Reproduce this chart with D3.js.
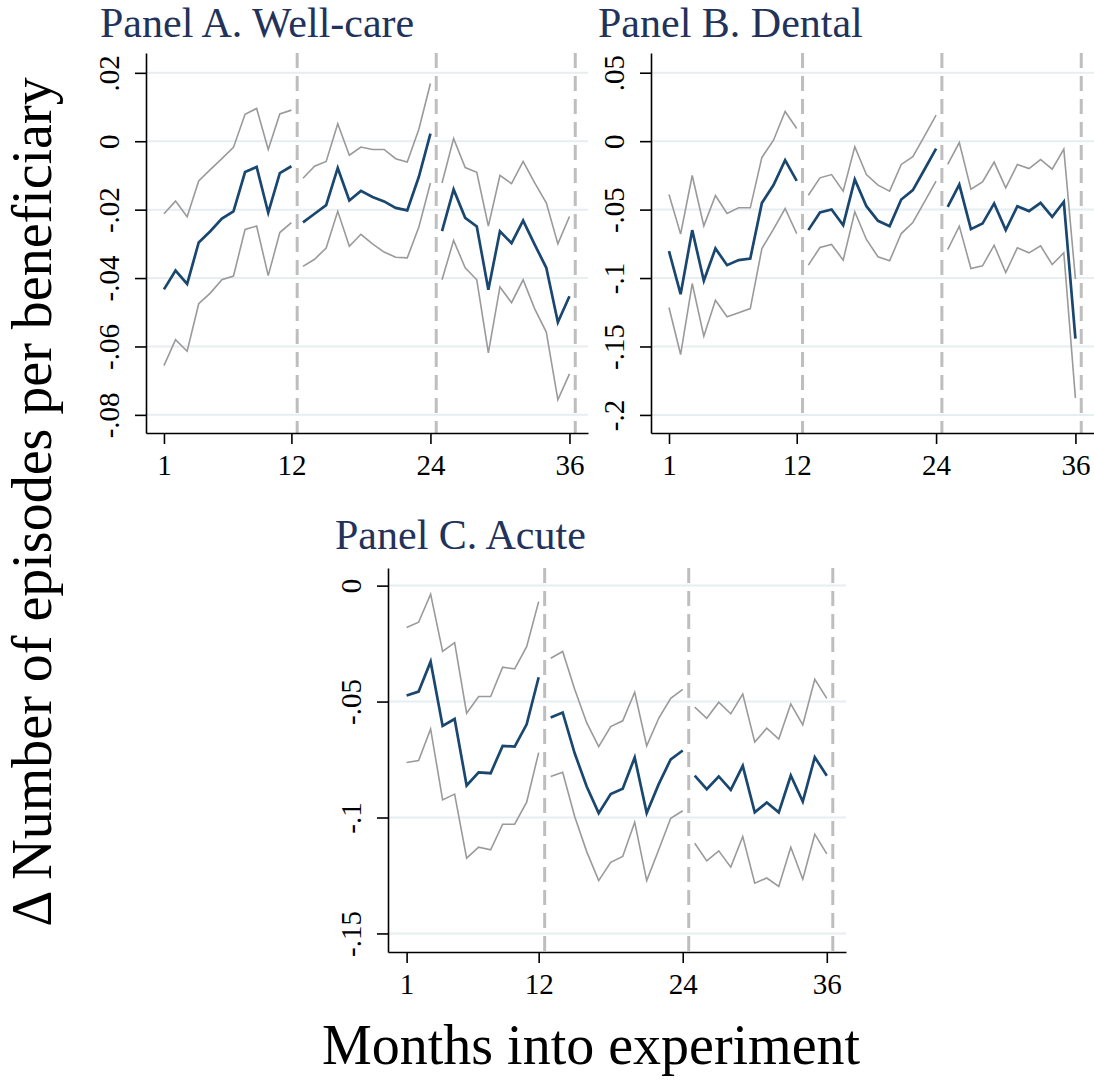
<!DOCTYPE html>
<html>
<head>
<meta charset="utf-8">
<script src="https://cdn.jsdelivr.net/npm/d3@7"></script>
<style>
  body { margin: 0; background: #fff; }
  text { font-family: "Liberation Serif", "Times New Roman", serif; }
</style>
</head>
<body>
<svg id="chart" width="1094" height="1080"></svg>
<script>
(function(){

  // DATA ////////////////////////////////////////////////////////////////////

  var months = [1,2,3,4,5,6,7,8,9,10,11,12,13,14,15,16,17,18,19,20,21,22,23,24,
                25,26,27,28,29,30,31,32,33,34,35,36];
  var xTicks = [1, 12, 24, 36];
  var breaks = [12.5, 24.5, 36.5];

  // Panel A. Well-care
  var wellEst = [-0.0433,-0.0378,-0.0417,-0.0296,-0.0263,-0.0226,-0.0205,-0.0090,-0.0075,-0.0209,-0.0093,-0.0073,
                 -0.0237,-0.0212,-0.0187,-0.0078,-0.0173,-0.0145,-0.0163,-0.0176,-0.0195,-0.0202,-0.0104,0.0022,
                 -0.0263,-0.0141,-0.0224,-0.0249,-0.0434,-0.0263,-0.0298,-0.0232,-0.0302,-0.0370,-0.0529,-0.0453];
  var wellHi  = [-0.0212,-0.0175,-0.0221,-0.0116,-0.0083,-0.0051,-0.0018,0.0079,0.0096,-0.0024,0.0080,0.0091,
                 -0.0108,-0.0073,-0.0059,0.0051,-0.0041,-0.0017,-0.0024,-0.0024,-0.0051,-0.0061,0.0035,0.0169,
                 -0.0122,0.0008,-0.0077,-0.0091,-0.0248,-0.0100,-0.0124,-0.0059,-0.0122,-0.0180,-0.0300,-0.0220];
  var wellLo  = [-0.0656,-0.0580,-0.0614,-0.0475,-0.0444,-0.0405,-0.0394,-0.0258,-0.0248,-0.0393,-0.0267,-0.0238,
                 -0.0366,-0.0345,-0.0312,-0.0205,-0.0307,-0.0272,-0.0300,-0.0324,-0.0339,-0.0341,-0.0251,-0.0122,
                 -0.0405,-0.0290,-0.0370,-0.0405,-0.0619,-0.0426,-0.0472,-0.0405,-0.0490,-0.0558,-0.0756,-0.0680];
  var wellTicks = [0.02, 0, -0.02, -0.04, -0.06, -0.08];
  var wellLabels = [".02", "0", "-.02", "-.04", "-.06", "-.08"];

  // Panel B. Dental
  var dentEst = [-0.0804,-0.1118,-0.0650,-0.1020,-0.0784,-0.0906,-0.0869,-0.0857,-0.0451,-0.0321,-0.0139,-0.0290,
                 -0.0650,-0.0521,-0.0499,-0.0614,-0.0280,-0.0475,-0.0582,-0.0621,-0.0426,-0.0358,-0.0207,-0.0054,
                 -0.0480,-0.0317,-0.0643,-0.0602,-0.0455,-0.0650,-0.0475,-0.0511,-0.0451,-0.0553,-0.0443,-0.1442];
  var dentHi  = [-0.0390,-0.0679,-0.0251,-0.0619,-0.0397,-0.0528,-0.0487,-0.0487,-0.0119,0.0007,0.0217,0.0093,
                 -0.0395,-0.0268,-0.0244,-0.0365,-0.0041,-0.0244,-0.0321,-0.0365,-0.0170,-0.0114,0.0037,0.0190,
                 -0.0170,-0.0010,-0.0351,-0.0297,-0.0153,-0.0341,-0.0170,-0.0200,-0.0134,-0.0205,-0.0058,-0.1008];
  var dentLo  = [-0.1215,-0.1559,-0.1040,-0.1425,-0.1162,-0.1283,-0.1254,-0.1223,-0.0784,-0.0643,-0.0492,-0.0675,
                 -0.0906,-0.0777,-0.0755,-0.0869,-0.0516,-0.0718,-0.0845,-0.0874,-0.0675,-0.0594,-0.0443,-0.0292,
                 -0.0792,-0.0621,-0.0930,-0.0911,-0.0760,-0.0960,-0.0779,-0.0816,-0.0765,-0.0901,-0.0816,-0.1875];
  var dentTicks = [0.05, 0, -0.05, -0.1, -0.15, -0.2];
  var dentLabels = [".05", "0", "-.05", "-.1", "-.15", "-.2"];

  // Panel C. Acute
  var acuteEst = [-0.0474,-0.0457,-0.0328,-0.0605,-0.0575,-0.0862,-0.0805,-0.0809,-0.0691,-0.0694,-0.0598,-0.0395,
                  -0.0569,-0.0547,-0.0723,-0.0866,-0.0981,-0.0899,-0.0876,-0.0741,-0.0981,-0.0856,-0.0749,-0.0711,
                  -0.0819,-0.0878,-0.0823,-0.0881,-0.0777,-0.0978,-0.0935,-0.0978,-0.0819,-0.0931,-0.0740,-0.0820];
  var acuteHi  = [-0.0181,-0.0158,-0.0037,-0.0284,-0.0246,-0.0550,-0.0478,-0.0478,-0.0352,-0.0359,-0.0263,-0.0069,
                  -0.0313,-0.0284,-0.0447,-0.0591,-0.0694,-0.0608,-0.0583,-0.0460,-0.0691,-0.0572,-0.0486,-0.0447,
                  -0.0524,-0.0572,-0.0503,-0.0553,-0.0468,-0.0675,-0.0615,-0.0662,-0.0510,-0.0601,-0.0404,-0.0486];
  var acuteLo  = [-0.0763,-0.0754,-0.0618,-0.0924,-0.0899,-0.1175,-0.1128,-0.1139,-0.1029,-0.1029,-0.0934,-0.0720,
                  -0.0823,-0.0805,-0.0996,-0.1147,-0.1272,-0.1193,-0.1168,-0.1020,-0.1272,-0.1139,-0.1003,-0.0971,
                  -0.1111,-0.1187,-0.1144,-0.1214,-0.1082,-0.1283,-0.1261,-0.1297,-0.1128,-0.1266,-0.1072,-0.1157];
  var acuteTicks = [0, -0.05, -0.1, -0.15];
  var acuteLabels = ["0", "-.05", "-.1", "-.15"];

  // LAYOUT //////////////////////////////////////////////////////////////////

  var panels = [
    { title: "Panel A. Well-care", est: wellEst, hi: wellHi, lo: wellLo,
      ticks: wellTicks, labels: wellLabels, yDomain: [-0.0853, 0.0258],
      left: 146, right: 588, top: 53, bottom: 433, titleX: 100, titleY: 37 },
    { title: "Panel B. Dental", est: dentEst, hi: dentHi, lo: dentLo,
      ticks: dentTicks, labels: dentLabels, yDomain: [-0.2132, 0.0644],
      left: 651, right: 1094, top: 53, bottom: 433, titleX: 598, titleY: 37 },
    { title: "Panel C. Acute", est: acuteEst, hi: acuteHi, lo: acuteLo,
      ticks: acuteTicks, labels: acuteLabels, yDomain: [-0.158, 0.0076],
      left: 388, right: 846, top: 568, bottom: 952, titleX: 335, titleY: 549 }
  ];

  var navy = "#1a476f";
  var ciGrey = "#9a9a9a";
  var titleColor = "#22325a";

  var svg = d3.select("#chart");
  svg.append("rect").attr("width", 1094).attr("height", 1080).attr("fill", "#fff");

  // PANELS //////////////////////////////////////////////////////////////////

  panels.forEach(function(p){

    var x = d3.scaleLinear().domain([-0.55, 37.6]).range([p.left, p.right]);
    var y = d3.scaleLinear().domain(p.yDomain).range([p.bottom, p.top]);
    var g = svg.append("g");

    // gridlines
    g.selectAll("line.grid").data(p.ticks).enter().append("line")
      .attr("x1", p.left).attr("x2", p.right)
      .attr("y1", function(d){ return y(d); }).attr("y2", function(d){ return y(d); })
      .attr("stroke", "#e6eef1").attr("stroke-width", 2);

    // period separators
    g.selectAll("line.brk").data(breaks).enter().append("line")
      .attr("x1", function(d){ return x(d); }).attr("x2", function(d){ return x(d); })
      .attr("y1", p.top).attr("y2", p.bottom)
      .attr("stroke", "#bebebe").attr("stroke-width", 3)
      .attr("stroke-dasharray", "15,8");

    // series, one path per 12-month period
    var rows = months.map(function(m, i){
      return { m: m, seg: Math.ceil(m / 12), est: p.est[i], hi: p.hi[i], lo: p.lo[i] };
    });
    var segs = d3.groups(rows, function(d){ return d.seg; });

    [["hi", ciGrey, 1.6], ["lo", ciGrey, 1.6], ["est", navy, 2.7]].forEach(function(s){
      var line = d3.line()
        .x(function(d){ return x(d.m); })
        .y(function(d){ return y(d[s[0]]); });
      segs.forEach(function(sg){
        g.append("path")
          .attr("d", line(sg[1]))
          .attr("fill", "none")
          .attr("stroke", s[1])
          .attr("stroke-width", s[2])
          .attr("stroke-linejoin", "miter");
      });
    });

    // axes
    var xAxis = d3.axisBottom(x).tickValues(xTicks).tickSize(11).tickSizeOuter(0);
    var xg = g.append("g").attr("transform", "translate(0," + p.bottom + ")").call(xAxis);
    xg.select(".domain").attr("stroke", "#000").attr("stroke-width", 1.6);
    xg.selectAll(".tick line").attr("stroke", "#000").attr("stroke-width", 1.6);
    xg.selectAll(".tick text").attr("font-size", 29).attr("fill", "#000")
      .attr("font-family", "Liberation Serif").attr("dy", 0).attr("y", 42);

    var yAxis = d3.axisLeft(y).tickValues(p.ticks).tickSize(11).tickSizeOuter(0)
      .tickFormat(function(d, i){ return p.labels[i]; });
    var yg = g.append("g").attr("transform", "translate(" + p.left + ",0)").call(yAxis);
    yg.select(".domain").attr("stroke", "#000").attr("stroke-width", 1.6);
    yg.selectAll(".tick line").attr("stroke", "#000").attr("stroke-width", 1.6);
    yg.selectAll(".tick text")
      .attr("font-size", 29).attr("fill", "#000").attr("font-family", "Liberation Serif")
      .attr("x", null).attr("dy", null)
      .attr("text-anchor", "middle")
      .attr("transform", "translate(-27,0) rotate(-90)");

    // title
    svg.append("text")
      .attr("x", p.titleX).attr("y", p.titleY)
      .attr("font-size", 42).attr("fill", titleColor)
      .text(p.title);
  });

  // AXIS TITLES /////////////////////////////////////////////////////////////

  svg.append("text")
    .attr("transform", "translate(51,502) rotate(-90)")
    .attr("text-anchor", "middle")
    .attr("font-size", 56).attr("fill", "#000")
    .text("\u0394 Number of episodes per beneficiary");

  svg.append("text")
    .attr("x", 591).attr("y", 1064)
    .attr("text-anchor", "middle")
    .attr("font-size", 56).attr("fill", "#000")
    .text("Months into experiment");

})();
</script>
</body>
</html>
